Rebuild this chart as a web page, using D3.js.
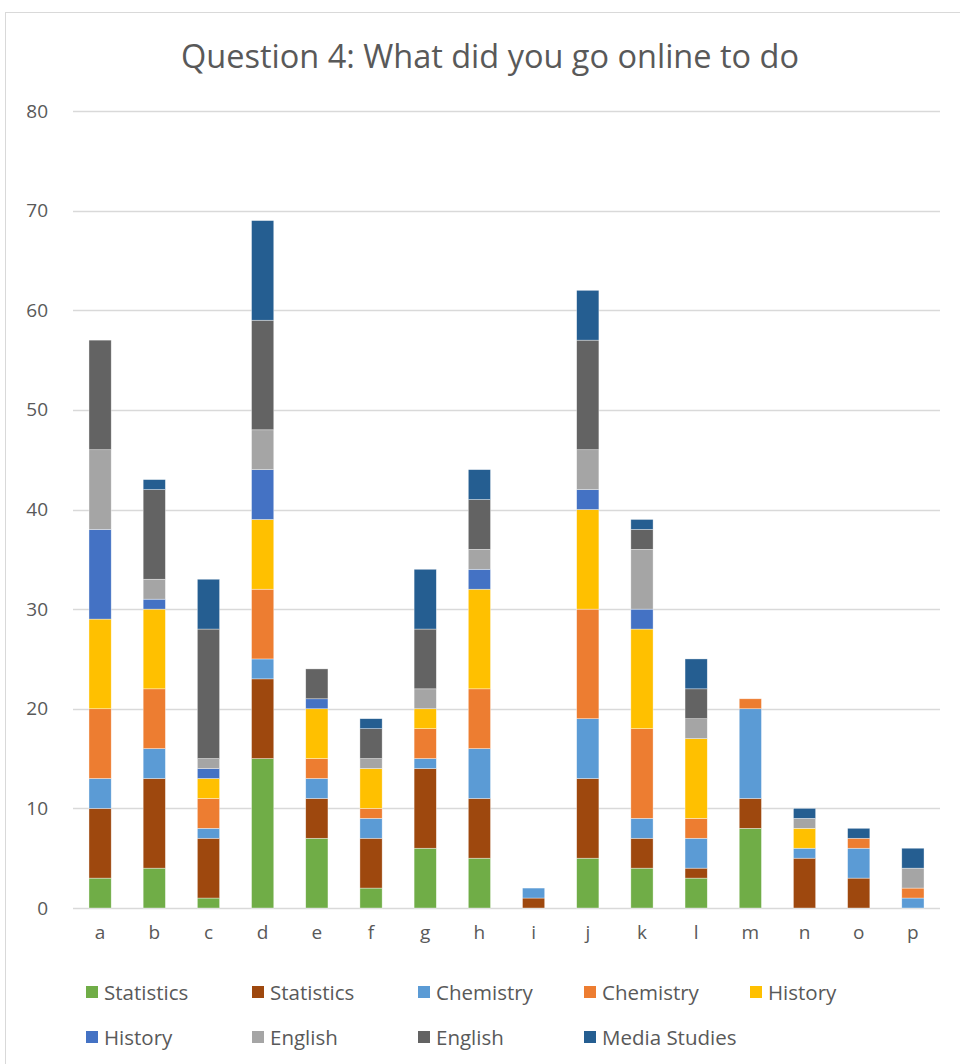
<!DOCTYPE html>
<html>
<head>
<meta charset="utf-8">
<script src="https://cdn.jsdelivr.net/npm/d3@7"></script>
<style>
  body { margin: 0; background: #fff; }
  svg { display: block; font-family: "Open Sans", sans-serif; }
</style>
</head>
<body>
<div id="chart"></div>
<script>
const categories = ["a","b","c","d","e","f","g","h","i","j","k","l","m","n","o","p"];
const seriesNames = ["Statistics","Statistics","Chemistry","Chemistry","History","History","English","English","Media Studies"];
const seriesColors = ["#70AD47","#9E480E","#5B9BD5","#ED7D31","#FFC000","#4472C4","#A5A5A5","#636363","#255E91"];
// one array per series, values per category a..p
const statistics1 = [3,4,1,15,7,2,6,5,0,5,4,3,8,0,0,0];
const statistics2 = [7,9,6,8,4,5,8,6,1,8,3,1,3,5,3,0];
const chemistry1  = [3,3,1,2,2,2,1,5,1,6,2,3,9,1,3,1];
const chemistry2  = [7,6,3,7,2,1,3,6,0,11,9,2,1,0,1,1];
const history1    = [9,8,2,7,5,4,2,10,0,10,10,8,0,2,0,0];
const history2    = [9,1,1,5,1,0,0,2,0,2,2,0,0,0,0,0];
const english1    = [8,2,1,4,0,1,2,2,0,4,6,2,0,1,0,2];
const english2    = [11,9,13,11,3,3,6,5,0,11,2,3,0,0,0,0];
const media       = [0,1,5,10,0,1,6,3,0,5,1,3,0,1,1,2];
const seriesValues = [statistics1, statistics2, chemistry1, chemistry2, history1, history2, english1, english2, media];
const yTicks = [0,10,20,30,40,50,60,70,80];

const width = 960, height = 1064;
const margin = { left: 73, right: 20, top: 111, bottom: 156 };

const rows = categories.map((c, i) => {
  const r = { cat: c };
  seriesValues.forEach((s, k) => r["s" + k] = s[i]);
  return r;
});
const keys = seriesValues.map((s, k) => "s" + k);
const stacked = d3.stack().keys(keys)(rows);

const svg = d3.select("#chart").append("svg")
  .attr("width", width).attr("height", height);

// chart border
svg.append("rect")
  .attr("x", 5.5).attr("y", 12.5)
  .attr("width", 980).attr("height", 1100)
  .attr("fill", "none").attr("stroke", "#D9D9D9");

const x = d3.scaleBand()
  .domain(categories)
  .range([margin.left, width - margin.right])
  .paddingInner(0.59).paddingOuter(0.295);

const y = d3.scaleLinear()
  .domain([0, 80])
  .range([height - margin.bottom, margin.top]);

// gridlines
svg.append("g")
  .selectAll("line")
  .data(yTicks)
  .join("line")
  .attr("x1", margin.left).attr("x2", width - margin.right)
  .attr("y1", d => Math.round(y(d)) + 0.5).attr("y2", d => Math.round(y(d)) + 0.5)
  .attr("stroke", "#D9D9D9").attr("stroke-width", 1.3);

// y labels
const yAxis = svg.append("g")
  .attr("transform", `translate(${margin.left - 22},0)`)
  .call(d3.axisLeft(y).tickValues(yTicks).tickSize(0));
yAxis.select(".domain").remove();
yAxis.selectAll("text")
  .attr("fill", "#595959").attr("font-size", 19)
  .attr("font-family", "Open Sans, sans-serif");

// bars
svg.append("g")
  .selectAll("g")
  .data(stacked)
  .join("g")
  .attr("fill", (d, i) => seriesColors[i])
  .selectAll("rect")
  .data(d => d)
  .join("rect")
  .attr("x", d => x(d.data.cat))
  .attr("y", d => y(d[1]))
  .attr("width", x.bandwidth())
  .attr("height", d => y(d[0]) - y(d[1]))
  .attr("stroke", "#fff").attr("stroke-width", d => (d[1] - d[0]) > 0 ? 0.6 : 0)
  .attr("stroke-opacity", 0.6);

// x labels
const xAxis = svg.append("g")
  .attr("transform", `translate(0,${y(0) + 14})`)
  .call(d3.axisBottom(x).tickSize(0));
xAxis.select(".domain").remove();
xAxis.selectAll("text")
  .attr("fill", "#595959").attr("font-size", 19)
  .attr("font-family", "Open Sans, sans-serif");

// title
svg.append("text")
  .attr("x", 490).attr("y", 68)
  .attr("text-anchor", "middle")
  .attr("fill", "#595959").attr("font-size", 32.5)
  .text("Question 4: What did you go online to do");

// legend
const legend = svg.append("g");
const legendItems = legend.selectAll("g")
  .data(seriesNames)
  .join("g")
  .attr("transform", (d, i) => `translate(${86 + (i % 5) * 166},${i < 5 ? 993 : 1038})`);
legendItems.append("rect")
  .attr("x", 0).attr("y", -7).attr("width", 12).attr("height", 12)
  .attr("fill", (d, i) => seriesColors[i]);
legendItems.append("text")
  .attr("x", 18).attr("y", 0).attr("dy", "0.35em")
  .attr("fill", "#595959").attr("font-size", 20.5)
  .text(d => d);
</script>
</body>
</html>
